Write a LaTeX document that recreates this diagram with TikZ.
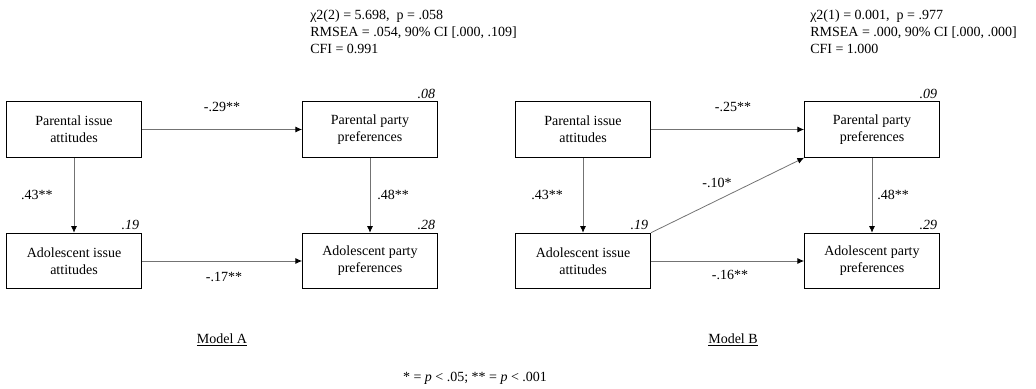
\documentclass[tikz,border=0pt]{standalone}
\usepackage{fontspec}
\setmainfont{Liberation Serif}
\usetikzlibrary{arrows.meta}

\begin{document}
\begin{tikzpicture}[x=0.75pt, y=-0.75pt,
  txt/.style={font=\fontsize{10.5}{12.75}\selectfont},
  var/.style={txt, draw, line width=0.9pt, minimum width=101pt, minimum height=41.5pt, align=center, inner sep=0pt},
  path/.style={draw=black!55, line width=0.6pt, -{Latex[length=5pt,width=4.5pt,color=black]}},
  coef/.style={txt},
  rsq/.style={txt, font=\fontsize{10.5}{12.75}\selectfont\itshape, anchor=south east, inner sep=2pt},
  fitstat/.style={txt, anchor=west, inner sep=0pt}]
  \useasboundingbox (0,0) rectangle (1036,389);

  % Model A
  \node[fitstat] (chia) at (310,16) {χ2(2) = 5.698,\ \ p = .058};
  \node[fitstat] (rmseaa) at (310,32.5) {RMSEA = .054, 90\% CI [.000, .109]};
  \node[fitstat] (cfia) at (310,49) {CFI = 0.991};

  \node[var] (piaa) at (74,129.5) {Parental issue\\attitudes};
  \node[var] (pppa) at (370,129.5) {Parental party\\preferences};
  \node[var] (aiaa) at (74,261) {Adolescent issue\\attitudes};
  \node[var] (appa) at (370,261) {Adolescent party\\preferences};

  \node[rsq] (rppa) at (pppa.north east) {.08};
  \node[rsq] (raia) at (aiaa.north east) {.19};
  \node[rsq] (rapa) at (appa.north east) {.28};

  \draw[path] (piaa) -- (pppa);
  \draw[path] (piaa) -- (aiaa);
  \draw[path] (pppa) -- (appa);
  \draw[path] (aiaa) -- (appa);

  \node[coef] (c29) at (222,107) {-.29**};
  \node[coef] (c43a) at (37,195) {.43**};
  \node[coef] (c48a) at (393,195) {.48**};
  \node[coef] (c17) at (224,277) {-.17**};

  \node[txt] (titlea) at (222,340) {\underline{Model A}};

  % Model B
  \node[fitstat] (chib) at (810,16) {χ2(1) = 0.001,\ \ p = .977};
  \node[fitstat] (rmseab) at (810,32.5) {RMSEA = .000, 90\% CI [.000, .000]};
  \node[fitstat] (cfib) at (810,49) {CFI = 1.000};

  \node[var] (piab) at (583,129.5) {Parental issue\\attitudes};
  \node[var] (pppb) at (872,129.5) {Parental party\\preferences};
  \node[var] (aiab) at (583,261) {Adolescent issue\\attitudes};
  \node[var] (appb) at (872,261) {Adolescent party\\preferences};

  \node[rsq] (rppb) at (pppb.north east) {.09};
  \node[rsq] (raib) at (aiab.north east) {.19};
  \node[rsq] (rapb) at (appb.north east) {.29};

  \draw[path] (piab) -- (pppb);
  \draw[path] (piab) -- (aiab);
  \draw[path] (pppb) -- (appb);
  \draw[path] (aiab) -- (appb);
  \draw[path] (aiab.north east) -- (pppb.south west);

  \node[coef] (c25) at (733,107) {-.25**};
  \node[coef] (c10) at (717,183) {-.10*};
  \node[coef] (c43b) at (547,195) {.43**};
  \node[coef] (c48b) at (893,195) {.48**};
  \node[coef] (c16) at (730,275) {-.16**};

  \node[txt] (titleb) at (733,340) {\underline{Model B}};

  \node[txt] (note) at (475,378) {* = \textit{p} < .05; ** = \textit{p} < .001};
\end{tikzpicture}
\end{document}
